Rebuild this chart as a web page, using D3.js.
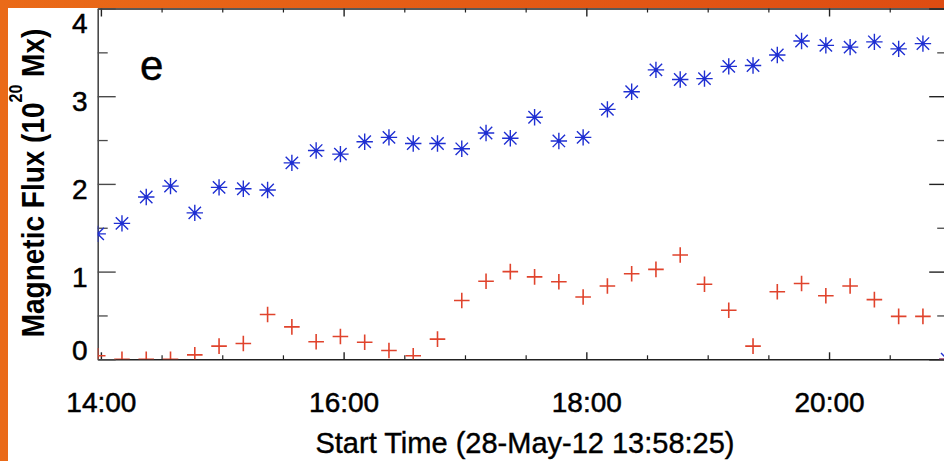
<!DOCTYPE html>
<html>
<head>
<meta charset="utf-8">
<script src="https://cdn.jsdelivr.net/npm/d3@7"></script>
<style>
  html, body { margin: 0; padding: 0; background: #ffffff; }
  svg { display: block; }
  text { font-family: "Liberation Sans", Arial, Helvetica, sans-serif; fill: #000; }
</style>
</head>
<body>
<svg id="chart" width="944" height="461"></svg>
<script>
// ---- data ----
const startTime = "13:58:25";
const endTime = "20:58:25";
const times = [
  "13:58:25","14:10:25","14:22:25","14:34:25","14:46:25","14:58:25",
  "15:10:25","15:22:25","15:34:25","15:46:25","15:58:25","16:10:25",
  "16:22:25","16:34:25","16:46:25","16:58:25","17:10:25","17:22:25",
  "17:34:25","17:46:25","17:58:25","18:10:25","18:22:25","18:34:25",
  "18:46:25","18:58:25","19:10:25","19:22:25","19:34:25","19:46:25",
  "19:58:25","20:10:25","20:22:25","20:34:25","20:46:25","20:58:25"
];
const fluxBlue = [
  1.43, 1.55, 1.85, 1.975, 1.67, 1.96,
  1.945, 1.93, 2.24, 2.38, 2.34, 2.48,
  2.53, 2.46, 2.46, 2.40, 2.58, 2.52,
  2.76, 2.49, 2.53, 2.85, 3.05, 3.30,
  3.19, 3.20, 3.34, 3.35, 3.47, 3.63,
  3.58, 3.56, 3.62, 3.54, 3.60, 0.0
];
const fluxRed = [
  0.04, 0.0, 0.0, 0.0, 0.05, 0.15,
  0.18, 0.51, 0.37, 0.20, 0.26, 0.195,
  0.10, 0.04, 0.23, 0.67, 0.89, 1.00,
  0.94, 0.885, 0.71, 0.835, 0.975, 1.025,
  1.19, 0.855, 0.56, 0.15, 0.77, 0.865,
  0.725, 0.835, 0.68, 0.49, 0.49, 0.0
];
const yMajorTicks = [0, 1, 2, 3, 4];
const yMinorTicks = [0.5, 1.5, 2.5, 3.5];
const xTickLabels = ["14:00", "16:00", "18:00", "20:00"];
const yTitle = "Magnetic Flux (10";
const yTitleSup = "20";
const yTitleEnd = " Mx)";
const xTitle = "Start Time (28-May-12 13:58:25)";
const panelLabel = "e";

// ---- layout ----
const W = 944, H = 461;
const pL = 97.7, pR = 947.2, pT = 8.5, pB = 359.3;
const blue = "#1f2fd2", red = "#e0432c";

const parse = d3.timeParse("%Y-%m-%d %H:%M:%S");
const day = "2012-05-28 ";
const x = d3.scaleTime().domain([parse(day + startTime), parse(day + endTime)]).range([pL, pR]);
const y = d3.scaleLinear().domain([0, 4]).range([pB, pT]);

const svg = d3.select("#chart");
const defs = svg.append("defs");
const grad = defs.append("linearGradient").attr("id", "og").attr("x1", 0).attr("x2", 1).attr("y1", 0).attr("y2", 0);
grad.append("stop").attr("offset", "0%").attr("stop-color", "#ea6a18");
grad.append("stop").attr("offset", "100%").attr("stop-color", "#de4c12");
defs.append("clipPath").attr("id", "plotclip").append("rect")
  .attr("x", pL).attr("y", pT).attr("width", pR - pL).attr("height", pB - pT);

// orange frame + white panel
svg.append("rect").attr("x", 0).attr("y", 0).attr("width", W).attr("height", H).attr("fill", "url(#og)");
svg.append("rect").attr("x", 8).attr("y", 8).attr("width", W - 8).attr("height", H - 8).attr("fill", "#ffffff");

// ---- axes ----
const majorX = xTickLabels.map(s => parse(day + s + ":00"));
const majorSet = new Set(majorX.map(d => +d));
const minorX = d3.timeMinute.every(30).range(x.domain()[0], x.domain()[1]).filter(d => !majorSet.has(+d));

const axisColor = "#222";
function styleAxis(g) {
  g.select(".domain").attr("stroke", axisColor).attr("stroke-width", 1.6);
  g.selectAll(".tick line").attr("stroke", axisColor).attr("stroke-width", 1.4);
}
function styleLabel(sel) {
  sel.attr("font-size", 28).attr("font-family", "Liberation Sans, Arial, sans-serif")
    .attr("fill", "#000").attr("stroke", "#000").attr("stroke-width", 0.5);
}

// bottom
const gB = svg.append("g").attr("transform", `translate(0,${pB})`)
  .call(d3.axisBottom(x).tickValues(majorX).tickSize(-7).tickSizeOuter(0).tickPadding(33)
    .tickFormat(d3.timeFormat("%H:%M")));
styleAxis(gB);
styleLabel(gB.selectAll(".tick text"));
svg.append("g").attr("transform", `translate(0,${pB})`)
  .call(d3.axisBottom(x).tickValues(minorX).tickSize(-4).tickSizeOuter(0).tickFormat(""))
  .call(g => { g.select(".domain").remove(); g.selectAll(".tick line").attr("stroke", axisColor).attr("stroke-width", 1.2); });

// top
const gT = svg.append("g").attr("transform", `translate(0,${pT})`)
  .call(d3.axisTop(x).tickValues(majorX).tickSize(-8).tickSizeOuter(0).tickFormat(""));
styleAxis(gT);
svg.append("g").attr("transform", `translate(0,${pT})`)
  .call(d3.axisTop(x).tickValues(minorX).tickSize(-4).tickSizeOuter(0).tickFormat(""))
  .call(g => { g.select(".domain").remove(); g.selectAll(".tick line").attr("stroke", axisColor).attr("stroke-width", 1.2); });

// left
const gL = svg.append("g").attr("transform", `translate(${pL},0)`)
  .call(d3.axisLeft(y).tickValues(yMajorTicks).tickSize(-18).tickSizeOuter(0).tickPadding(10).tickFormat(d3.format("d")));
styleAxis(gL);
gL.select(".domain").attr("stroke", "#4a4a4a");
gL.selectAll(".tick line").attr("stroke", "#4a4a4a");
styleLabel(gL.selectAll(".tick text"));
gL.selectAll(".tick text")
  .attr("dy", null).attr("dominant-baseline", "central")
  .attr("y", d => {
    const p = y(d) + 5;
    const c = Math.min(Math.max(p, pT + 14), pB - 9);
    return c - y(d);
  });
svg.append("g").attr("transform", `translate(${pL},0)`)
  .call(d3.axisLeft(y).tickValues(yMinorTicks).tickSize(-10).tickSizeOuter(0).tickFormat(""))
  .call(g => { g.select(".domain").remove(); g.selectAll(".tick line").attr("stroke", "#4a4a4a").attr("stroke-width", 1.3); });

// right
const gR = svg.append("g").attr("transform", `translate(${pR},0)`)
  .call(d3.axisRight(y).tickValues(yMajorTicks).tickSize(-18).tickSizeOuter(0).tickFormat(""));
styleAxis(gR);
svg.append("g").attr("transform", `translate(${pR},0)`)
  .call(d3.axisRight(y).tickValues(yMinorTicks).tickSize(-10).tickSizeOuter(0).tickFormat(""))
  .call(g => { g.select(".domain").remove(); g.selectAll(".tick line").attr("stroke", "#4a4a4a").attr("stroke-width", 1.3); });

// ---- markers ----
const plot = svg.append("g").attr("clip-path", "url(#plotclip)");
const rows = times.map((t, i) => ({ t: parse(day + t), b: fluxBlue[i], r: fluxRed[i] }));

// blue asterisks
const rs = 8.2, rd = 6.2;
const star = plot.selectAll("g.star").data(rows).join("g").attr("class", "star")
  .attr("transform", d => `translate(${x(d.t)},${y(d.b)})`);
star.append("path")
  .attr("d", `M${-rs},0L${rs},0M0,${-rs}L0,${rs}M${-rd},${-rd}L${rd},${rd}M${-rd},${rd}L${rd},${-rd}`)
  .attr("stroke", blue).attr("stroke-width", 1.4).attr("fill", "none");
star.append("circle").attr("r", 1.8).attr("fill", blue);

// red pluses
const rp = 7.8;
plot.selectAll("path.plus").data(rows).join("path").attr("class", "plus")
  .attr("transform", d => `translate(${x(d.t)},${y(d.r)})`)
  .attr("d", `M${-rp},0L${rp},0M0,${-rp}L0,${rp}`)
  .attr("stroke", red).attr("stroke-width", 1.6).attr("fill", "none");

// ---- titles ----
const yt = svg.append("text")
  .attr("transform", `translate(44,${(28 + 338) / 2}) rotate(-90) scale(1,1.15)`)
  .attr("text-anchor", "middle").attr("font-size", 28).attr("font-weight", "bold");
yt.append("tspan").text(yTitle);
yt.append("tspan").attr("font-size", 16).attr("dy", -19).text(yTitleSup);
yt.append("tspan").attr("dy", 19).text(yTitleEnd);

svg.append("text").attr("x", 525).attr("y", 453).attr("text-anchor", "middle")
  .attr("font-size", 29).attr("stroke", "#000").attr("stroke-width", 0.4).text(xTitle);

svg.append("text").attr("x", 140).attr("y", 80).attr("font-size", 42)
  .attr("stroke", "#000").attr("stroke-width", 0.5).text(panelLabel);
</script>
</body>
</html>
